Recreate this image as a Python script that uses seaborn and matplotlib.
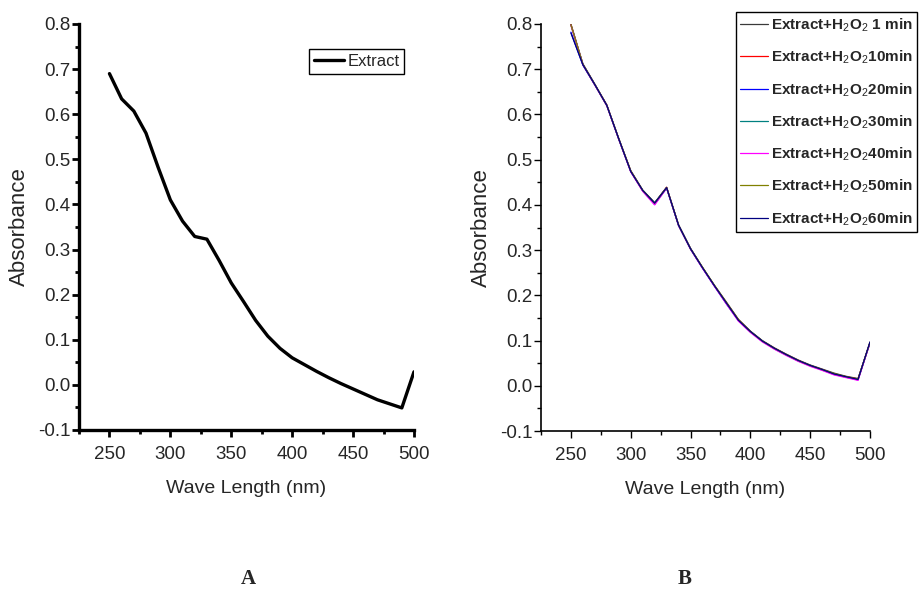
import matplotlib
matplotlib.use("Agg")
import matplotlib.pyplot as plt
from matplotlib.ticker import MultipleLocator
import seaborn as sns
import pandas as pd

# wavelengths (nm)
wavelength = [250, 260, 270, 280, 290, 300, 310, 320, 330, 340, 350, 360, 370,
              380, 390, 400, 410, 420, 430, 440, 450, 460, 470, 480, 490, 500]

# panel A: extract alone
extract = [0.690, 0.634, 0.607, 0.558, 0.482, 0.410, 0.363, 0.329, 0.323, 0.276,
           0.226, 0.185, 0.143, 0.108, 0.081, 0.060, 0.045, 0.030, 0.016, 0.003,
           -0.009, -0.021, -0.033, -0.042, -0.051, 0.029]

# panel B: extract + H2O2 at several times
h2o2_1 = [0.800, 0.712, 0.667, 0.621, 0.547, 0.476, 0.433, 0.405, 0.439, 0.356,
          0.304, 0.262, 0.222, 0.185, 0.147, 0.121, 0.100, 0.084, 0.070, 0.057,
          0.046, 0.037, 0.028, 0.021, 0.016, 0.096]
h2o2_10 = [0.799, 0.711, 0.666, 0.621, 0.546, 0.475, 0.432, 0.403, 0.439, 0.355,
           0.303, 0.261, 0.221, 0.183, 0.146, 0.120, 0.099, 0.083, 0.069, 0.056,
           0.045, 0.036, 0.026, 0.020, 0.015, 0.096]
h2o2_20 = [0.782, 0.709, 0.665, 0.620, 0.545, 0.474, 0.431, 0.401, 0.437, 0.354,
           0.302, 0.260, 0.220, 0.181, 0.144, 0.119, 0.098, 0.082, 0.068, 0.055,
           0.044, 0.035, 0.025, 0.019, 0.013, 0.095]
h2o2_30 = [0.798, 0.711, 0.666, 0.620, 0.546, 0.474, 0.432, 0.404, 0.438, 0.355,
           0.303, 0.261, 0.221, 0.182, 0.145, 0.120, 0.099, 0.082, 0.068, 0.055,
           0.045, 0.035, 0.026, 0.019, 0.014, 0.096]
h2o2_40 = [0.797, 0.710, 0.665, 0.619, 0.545, 0.473, 0.430, 0.400, 0.437, 0.354,
           0.302, 0.260, 0.220, 0.181, 0.143, 0.118, 0.097, 0.081, 0.067, 0.054,
           0.043, 0.034, 0.024, 0.018, 0.012, 0.095]
h2o2_50 = [0.798, 0.711, 0.666, 0.620, 0.546, 0.475, 0.432, 0.404, 0.438, 0.355,
           0.303, 0.262, 0.222, 0.184, 0.146, 0.120, 0.099, 0.083, 0.069, 0.056,
           0.045, 0.036, 0.027, 0.020, 0.015, 0.096]
h2o2_60 = [0.780, 0.710, 0.666, 0.620, 0.546, 0.474, 0.432, 0.404, 0.438, 0.355,
           0.303, 0.261, 0.221, 0.183, 0.145, 0.120, 0.099, 0.083, 0.069, 0.056,
           0.045, 0.036, 0.026, 0.020, 0.014, 0.097]

b_series = [h2o2_1, h2o2_10, h2o2_20, h2o2_30, h2o2_40, h2o2_50, h2o2_60]
b_labels = ["Extract+H$_2$O$_2$ 1 min", "Extract+H$_2$O$_2$10min",
            "Extract+H$_2$O$_2$20min", "Extract+H$_2$O$_2$30min",
            "Extract+H$_2$O$_2$40min", "Extract+H$_2$O$_2$50min",
            "Extract+H$_2$O$_2$60min"]
b_colors = ["#3a3a3a", "#ff0000", "#0000ff", "#008080", "#ff00ff", "#808000", "#000080"]

sns.set_style("ticks")
plt.rcParams["font.family"] = ["Liberation Sans", "DejaVu Sans"]
plt.rcParams["mathtext.fontset"] = "custom"
plt.rcParams["mathtext.rm"] = "Liberation Sans"
plt.rcParams["mathtext.bf"] = "Liberation Sans:bold"

df_a = pd.DataFrame({"wl": wavelength, "abs": extract})
df_b = pd.concat([pd.DataFrame({"wl": wavelength, "abs": s, "series": lab})
                  for s, lab in zip(b_series, b_labels)], ignore_index=True)

fig = plt.figure(figsize=(9.2, 5.92), dpi=100)
ax_a = fig.add_axes([79 / 920, 1 - 430 / 592, 335 / 920, 406 / 592])
ax_b = fig.add_axes([541 / 920, 1 - 431 / 592, 329 / 920, 407 / 592])


def style_axis(ax, spine_w, tick_w):
    ax.set_xlim(225, 500)
    ax.set_ylim(-0.1, 0.8)
    ax.xaxis.set_major_locator(MultipleLocator(50))
    ax.xaxis.set_minor_locator(MultipleLocator(25))
    ax.yaxis.set_major_locator(MultipleLocator(0.1))
    ax.yaxis.set_minor_locator(MultipleLocator(0.05))
    ax.yaxis.set_major_formatter(plt.FormatStrFormatter("%.1f"))
    for s in ["top", "right"]:
        ax.spines[s].set_visible(False)
    for s in ["left", "bottom"]:
        ax.spines[s].set_linewidth(spine_w)
        ax.spines[s].set_color("black")
    ax.tick_params(which="major", direction="out", length=5, width=tick_w,
                   labelsize=13.5, color="black")
    ax.tick_params(which="minor", direction="out", length=3, width=tick_w, color="black")
    ax.tick_params(axis="y", which="major", pad=1)
    ax.tick_params(axis="x", which="major", pad=6.5)
    ax.set_xlabel("Wave Length (nm)", fontsize=14, labelpad=12)
    ax.set_ylabel("Absorbance", fontsize=16, labelpad=6)
    ax.set_facecolor("white")
    ax.grid(False)


sns.lineplot(data=df_a, x="wl", y="abs", ax=ax_a, color="black", linewidth=2.4,
             label="Extract")
style_axis(ax_a, 2.4, 2.0)
ax_a.legend(loc="upper left", bbox_to_anchor=(309 / 920, 1 - 49 / 592),
            bbox_transform=fig.transFigure, borderaxespad=0, fancybox=False,
            edgecolor="black", framealpha=1, fontsize=12, handlelength=1.8,
            handletextpad=0.2, borderpad=0.3).get_frame().set_linewidth(1.0)

sns.lineplot(data=df_b, x="wl", y="abs", hue="series", palette=b_colors,
             hue_order=b_labels, ax=ax_b, linewidth=0.9)
style_axis(ax_b, 1.2, 1.0)
leg = ax_b.legend(loc="upper right", bbox_to_anchor=(917 / 920, 1 - 12 / 592),
                  bbox_transform=fig.transFigure, borderaxespad=0, fancybox=False,
                  edgecolor="black", framealpha=1, prop={"size": 11, "weight": "bold"},
                  handlelength=1.8, handletextpad=0.2, borderpad=0.3, labelspacing=0.95)
leg.get_frame().set_linewidth(1.0)

fig.text(248 / 920, 1 - 579 / 592, "A", ha="center", va="center",
         family="Liberation Serif", weight="bold", fontsize=15)
fig.text(685 / 920, 1 - 579 / 592, "B", ha="center", va="center",
         family="Liberation Serif", weight="bold", fontsize=15)

fig.savefig("out.png", dpi=100, facecolor="white")
